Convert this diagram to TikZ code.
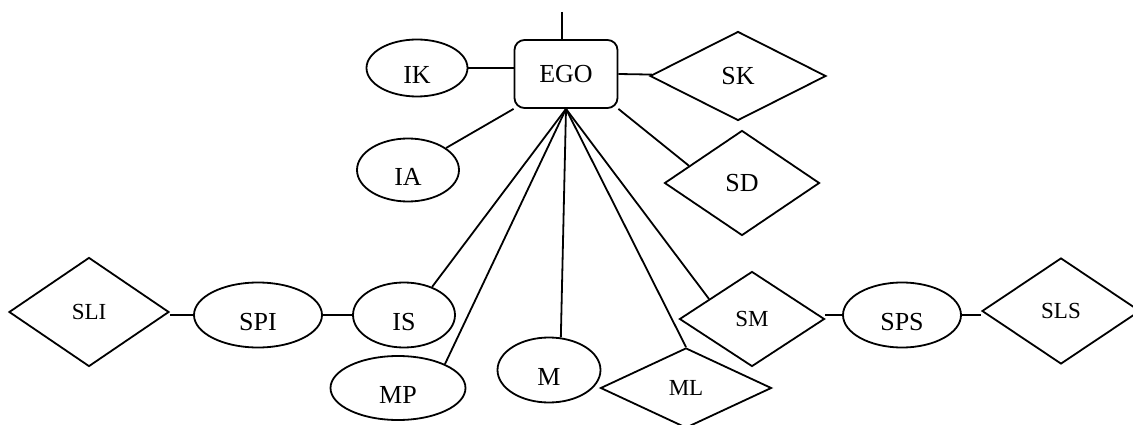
\documentclass[tikz,border=0pt]{standalone}
\usepackage{fontspec}
\setmainfont{Liberation Serif}
\usetikzlibrary{shapes.geometric}
\begin{document}
\begin{tikzpicture}[x=1pt, y=-1pt, line width=1.8pt,
    egobox/.style={draw, rectangle, rounded corners=10pt, inner sep=0pt, font=\fontsize{26}{30}\selectfont},
    oval/.style={draw, ellipse, inner sep=0pt, text height=31pt, text depth=0pt, font=\fontsize{26}{30}\selectfont},
    rhomb/.style={draw, diamond, inner sep=0pt, font=\fontsize{26}{30}\selectfont},
    smallrhomb/.style={rhomb, font=\fontsize{23}{27}\selectfont}]
  \clip (0,0) rectangle (1133,425);
  \node[egobox, minimum width=103pt, minimum height=68pt] (EGO) at (566,74) {EGO};
  \node[oval, minimum width=101pt, minimum height=57pt] (IK) at (417,68) {IK};
  \node[oval, minimum width=102pt, minimum height=63pt] (IA) at (408,170) {IA};
  \node[rhomb, minimum width=176pt, minimum height=89pt] (SK) at (738,76) {SK};
  \node[rhomb, minimum width=155pt, minimum height=105pt] (SD) at (742,183) {SD};
  \node[smallrhomb, minimum width=160pt, minimum height=109pt] (SLI) at (89,312) {SLI};
  \node[oval, minimum width=128pt, minimum height=65pt] (SPI) at (258,315) {SPI};
  \node[oval, minimum width=102pt, minimum height=65pt] (IS) at (404,315) {IS};
  \node[oval, minimum width=135pt, minimum height=64pt] (MP) at (398,388) {MP};
  \node[oval, minimum width=103pt, minimum height=65pt] (M) at (549,370) {M};
  \node[smallrhomb, minimum width=171pt, minimum height=80pt] (ML) at (686,388) {ML};
  \node[smallrhomb, minimum width=145pt, minimum height=95pt] (SM) at (752,319) {SM};
  \node[oval, minimum width=118pt, minimum height=65pt] (SPS) at (902,315) {SPS};
  \node[smallrhomb, minimum width=158pt, minimum height=106pt] (SLS) at (1061,311) {SLS};
  \coordinate (up) at (562,12);
  \draw (up) -- (up |- EGO.north);
  \draw (IK.east) -- (EGO.west |- IK.east);
  \draw (EGO.east) -- (SK);
  \draw (IA) -- (EGO.south west);
  \draw (EGO.south east) -- (SD.162);
  \draw (EGO.south) -- (IS.45);
  \draw (EGO.south) -- (MP.27);
  \draw (EGO.south) -- (M.70);
  \draw (EGO.south) -- (ML.north);
  \draw (EGO.south) -- (SM.155);
  \draw (SPI.west) -- (SPI.west -| SLI.east);
  \draw (SPI.east) -- (IS.west);
  \draw (SPS.west) -- (SPS.west -| SM.east);
  \draw (SPS.east) -- (SPS.east -| SLS.west);
\end{tikzpicture}
\end{document}
